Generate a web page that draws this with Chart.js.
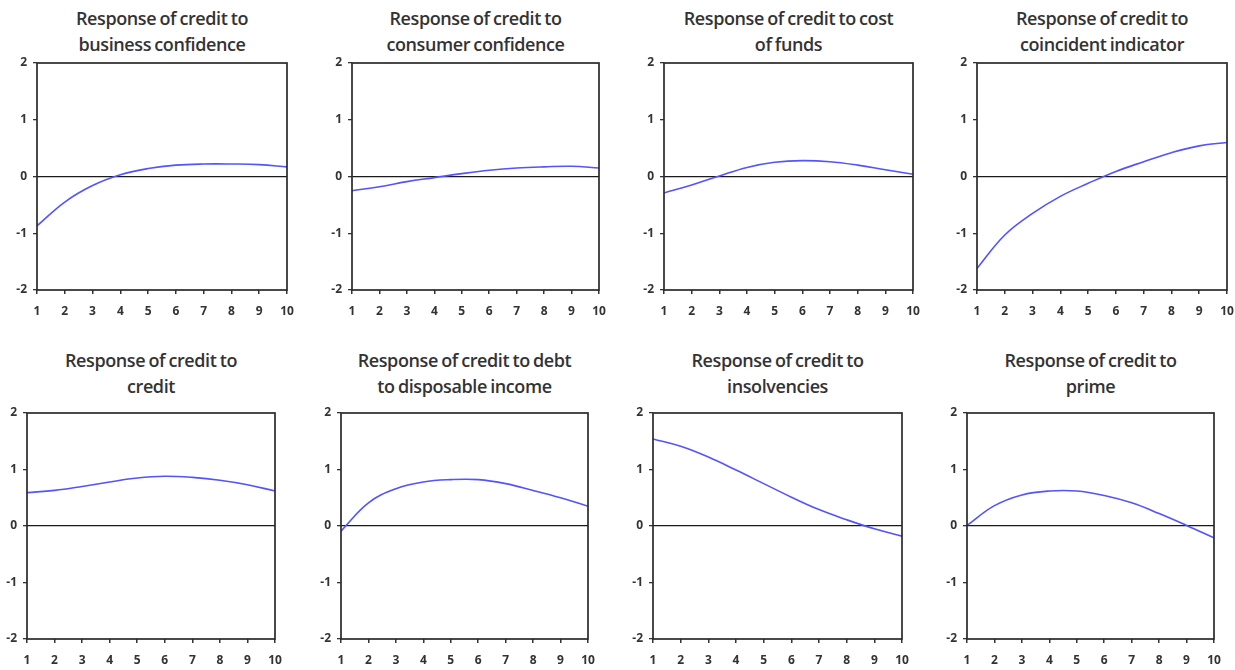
<!DOCTYPE html>
<html lang="en">
<head>
    <meta charset="UTF-8">
    <title>Impulse responses of credit</title>
    <script src="https://cdn.jsdelivr.net/npm/chart.js@4.4.2/dist/chart.umd.min.js"></script>
    <style>
        body {
            margin: 0;
            background: #fff;
            width: 1235px;
            height: 670px;
            position: relative;
            overflow: hidden;
        }
        .panel { position: absolute; }
        .title {
            position: absolute;
            width: 320px;
            text-align: center;
            font-family: "Open Sans", sans-serif;
            font-weight: 600;
            font-size: 18px;
            line-height: 26px;
            color: #333;
            letter-spacing: -0.4px;
            word-spacing: -1px;
        }
    </style>
</head>
<body>
    <div id="grid"></div>

    <script>
        // --- Data ---
        const steps = [1, 2, 3, 4, 5, 6, 7, 8, 9, 10];
        const yTicks = [-2, -1, 0, 1, 2];

        const businessConfidence = [-0.87, -0.45, -0.16, 0.03, 0.14, 0.20, 0.22, 0.22, 0.21, 0.17];
        const consumerConfidence = [-0.25, -0.18, -0.09, -0.02, 0.05, 0.11, 0.15, 0.17, 0.18, 0.15];
        const costOfFunds = [-0.29, -0.15, 0.01, 0.16, 0.25, 0.28, 0.26, 0.20, 0.12, 0.04];
        const coincidentIndicator = [-1.62, -1.03, -0.65, -0.35, -0.12, 0.09, 0.26, 0.42, 0.54, 0.60];
        const credit = [0.59, 0.63, 0.70, 0.78, 0.85, 0.88, 0.86, 0.81, 0.73, 0.62];
        const debtToIncome = [-0.09, 0.41, 0.66, 0.78, 0.82, 0.82, 0.75, 0.63, 0.50, 0.35];
        const insolvencies = [1.54, 1.41, 1.22, 0.99, 0.75, 0.51, 0.29, 0.11, -0.05, -0.18];
        const prime = [0.01, 0.36, 0.55, 0.62, 0.62, 0.54, 0.41, 0.22, 0.01, -0.21];

        const titles = [
            ['Response of credit to', 'business confidence'],
            ['Response of credit to', 'consumer confidence'],
            ['Response of credit to cost', 'of funds'],
            ['Response of credit to', 'coincident indicator'],
            ['Response of credit to', 'credit'],
            ['Response of credit to debt', 'to disposable income'],
            ['Response of credit to', 'insolvencies'],
            ['Response of credit to', 'prime']
        ];
        const series = [businessConfidence, consumerConfidence, costOfFunds, coincidentIndicator,
                        credit, debtToIncome, insolvencies, prime];

        // --- Layout: plot area boxes [left, right, top, bottom] ---
        const plotBoxes = [
            [37, 287, 63, 290], [352, 599, 63, 290], [664, 913, 63, 290], [977, 1227, 63, 290],
            [27, 275, 413, 639], [341, 588, 413, 639], [653, 902, 413, 639], [967, 1214, 413, 639]
        ];
        const titleTops = [5, 347];

        const Y_AXIS_W = 36;
        const X_AXIS_H = 36;
        const PAD_TOP = 22;
        const PAD_RIGHT = 22;

        // draws the box around the plot area
        const framePlugin = {
            id: 'frame',
            afterDraw(chart) {
                const a = chart.chartArea;
                const ctx = chart.ctx;
                ctx.save();
                ctx.strokeStyle = '#2a2a2a';
                ctx.lineWidth = 1.7;
                ctx.strokeRect(a.left, a.top, a.right - a.left, a.bottom - a.top);
                ctx.restore();
            }
        };

        const tickFont = { family: '"Open Sans", sans-serif', size: 12, weight: '700' };

        function makePanel(i) {
            const [l, r, t, b] = plotBoxes[i];
            const grid = document.getElementById('grid');

            const title = document.createElement('div');
            title.className = 'title';
            title.style.left = ((l + r) / 2 - 160) + 'px';
            title.style.top = titleTops[i < 4 ? 0 : 1] + 'px';
            title.innerHTML = titles[i].join('<br>');
            grid.appendChild(title);

            const w = (r - l) + Y_AXIS_W + PAD_RIGHT;
            const h = (b - t) + PAD_TOP + X_AXIS_H;
            const panel = document.createElement('div');
            panel.className = 'panel';
            panel.style.left = (l - Y_AXIS_W) + 'px';
            panel.style.top = (t - PAD_TOP) + 'px';
            panel.style.width = w + 'px';
            panel.style.height = h + 'px';
            const canvas = document.createElement('canvas');
            panel.appendChild(canvas);
            grid.appendChild(panel);

            new Chart(canvas, {
                type: 'line',
                data: {
                    datasets: [{
                        data: steps.map((s, k) => ({ x: s, y: series[i][k] })),
                        borderColor: '#5353ff',
                        borderWidth: 1.6,
                        pointRadius: 0,
                        tension: 0.4,
                        fill: false
                    }]
                },
                options: {
                    responsive: true,
                    maintainAspectRatio: false,
                    animation: false,
                    layout: { padding: { top: PAD_TOP, right: PAD_RIGHT, left: 0, bottom: 0 } },
                    plugins: { legend: { display: false }, tooltip: { enabled: false } },
                    scales: {
                        x: {
                            type: 'linear',
                            min: 1,
                            max: 10,
                            afterFit: s => { s.height = X_AXIS_H; },
                            afterBuildTicks: s => { s.ticks = steps.map(v => ({ value: v })); },
                            border: { display: false },
                            grid: { drawOnChartArea: false, tickLength: 4, tickColor: '#333', lineWidth: 1.5 },
                            ticks: { color: '#333', font: tickFont, padding: 10, maxRotation: 0, autoSkip: false }
                        },
                        y: {
                            min: -2,
                            max: 2,
                            afterFit: s => { s.width = Y_AXIS_W; },
                            afterBuildTicks: s => { s.ticks = yTicks.map(v => ({ value: v })); },
                            border: { display: false },
                            grid: {
                                color: c => c.tick && c.tick.value === 0 ? '#1a1a1a' : 'rgba(0,0,0,0)',
                                lineWidth: 1.3,
                                tickLength: 4,
                                tickColor: '#333'
                            },
                            ticks: { color: '#333', font: tickFont, padding: 6 }
                        }
                    }
                },
                plugins: [framePlugin]
            });
        }

        for (let i = 0; i < series.length; i++) makePanel(i);
    </script>
</body>
</html>
